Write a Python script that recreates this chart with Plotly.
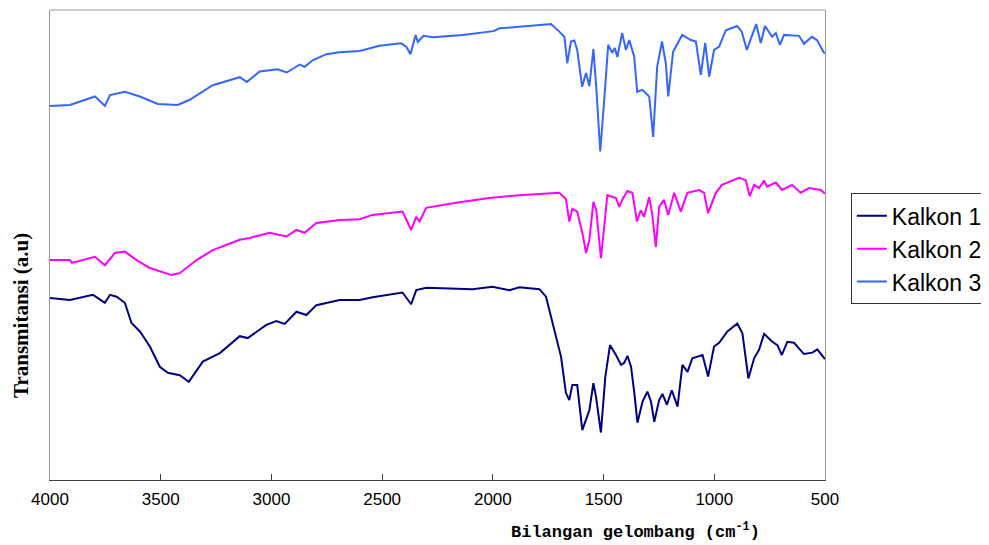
import plotly.graph_objects as go

# Kalkon 3 (top, blue)
k3_wn = [4000, 3910, 3797, 3752, 3729, 3662, 3594, 3513, 3423, 3369, 3265, 3143, 3111, 3053, 2972, 2931,
         2872, 2850, 2814, 2752, 2692, 2602, 2512, 2414, 2391, 2372, 2349, 2339, 2313, 2271, 2136,
         1997, 1970, 1880, 1820,
         1737, 1700, 1677, 1664, 1647, 1632, 1619, 1597, 1579, 1564, 1546, 1533, 1515, 1497, 1479,
         1461, 1449, 1438, 1416, 1399, 1384, 1362, 1348, 1325, 1294, 1276, 1258, 1236, 1219, 1208,
         1186, 1145, 1106, 1083, 1061, 1041, 1023, 1001, 978, 948, 897, 876, 853, 811, 790, 771,
         739, 722, 704, 685, 617, 595, 559, 536, 505, 500]
k3_t = [79.6, 79.8, 81.6, 79.6, 81.9, 82.6, 81.6, 80.0, 79.8, 80.9, 84.0, 85.7, 84.7, 86.9, 87.4, 86.7,
        88.4, 87.9, 89.3, 90.6, 91.0, 91.3, 92.4, 92.9, 92.2, 90.6, 94.7, 93.2, 94.5, 94.2, 94.7,
        95.5, 96.1, 96.4, 96.6,
        97.0, 95.4, 94.3, 88.7, 93.3, 93.5, 91.5, 83.7, 86.6, 83.8, 91.7, 83.6, 69.9, 80.9, 92.6,
        90.9, 91.9, 90.0, 95.1, 91.5, 93.6, 90.1, 82.6, 83.0, 81.6, 73.0, 87.9, 93.3, 88.7, 81.6,
        91.1, 94.7, 93.6, 93.3, 86.2, 93.0, 85.8, 91.5, 92.2, 95.7, 96.6, 95.4, 91.5, 97.0, 93.0, 96.6,
        94.3, 95.1, 92.6, 94.7, 94.5, 92.8, 94.3, 93.6, 90.9, 90.9]

# Kalkon 2 (middle, magenta)
k2_wn = [4000, 3910, 3901, 3797, 3752, 3707, 3662, 3609, 3549, 3451, 3414, 3338, 3265, 3143, 3098, 3008,
         2932, 2887, 2850, 2797, 2692, 2602, 2543, 2408, 2369, 2346, 2331, 2301, 2166, 2016, 1880,
         1700, 1670, 1655, 1641, 1619, 1596, 1579, 1564, 1546, 1533, 1512, 1497, 1483, 1444, 1429,
         1416, 1393, 1370, 1349, 1332, 1317, 1294, 1281, 1264, 1249, 1227, 1208, 1181, 1151, 1122,
         1068, 1046, 1028, 993, 965, 888, 858, 840, 820, 798, 775, 762, 722, 694, 649, 610, 572, 519, 500]
k2_t = [46.8, 46.8, 46.2, 47.5, 45.7, 48.3, 48.6, 46.8, 45.1, 43.6, 44.0, 46.8, 48.9, 51.1, 51.5, 52.6,
        51.8, 53.2, 52.6, 54.7, 55.3, 55.5, 56.4, 57.1, 53.2, 56.0, 55.0, 57.9, 59.0, 60.0, 60.6,
        61.1, 59.8, 55.0, 57.7, 57.1, 52.6, 48.3, 51.1, 59.2, 57.4, 47.2, 53.9, 60.6, 60.0, 58.1,
        59.6, 61.5, 61.1, 55.0, 57.4, 56.0, 60.2, 56.8, 49.6, 58.1, 59.6, 56.4, 61.1, 57.1, 61.1,
        61.7, 61.1, 56.8, 61.1, 62.8, 64.3, 63.8, 60.4, 62.8, 62.1, 63.7, 62.4, 63.3, 61.7, 62.8,
        61.1, 62.1, 61.7, 60.9]

# Kalkon 1 (bottom, navy)
k1_wn = [4000, 3910, 3806, 3752, 3729, 3699, 3662, 3632, 3594, 3549, 3504, 3468, 3414, 3373, 3310, 3233,
         3143, 3107, 3023, 2978, 2940, 2887, 2842, 2797, 2692, 2602, 2543, 2408, 2369, 2346, 2301,
         2092, 2002, 1925, 1880, 1790, 1760, 1737, 1715, 1692, 1670, 1655, 1641, 1619, 1596, 1564,
         1546, 1534, 1512, 1492, 1471, 1444, 1421, 1407, 1392, 1376, 1361, 1347, 1324, 1302, 1286,
         1271, 1249, 1234, 1214, 1192, 1166, 1144, 1121, 1099, 1053, 1028, 1001, 978, 941, 896, 873,
         846, 820, 798, 775, 738, 715, 695, 670, 640, 595, 557, 535, 500]
k1_t = [38.7, 38.3, 39.4, 37.7, 39.4, 39.0, 37.7, 33.4, 31.6, 28.4, 24.1, 22.8, 22.3, 20.9, 25.2, 27.0,
        30.6, 30.2, 33.0, 33.8, 33.2, 35.8, 35.1, 37.2, 38.3, 38.3, 38.9, 39.9, 37.4, 40.4, 40.9,
        40.6, 41.1, 40.4, 41.0, 40.6, 39.0, 34.7, 30.5, 26.2, 18.5, 17.0, 20.2, 20.2, 10.6, 14.9,
        20.6, 17.7, 10.1, 22.0, 28.7, 26.6, 24.5, 24.9, 26.4, 24.1, 18.5, 12.2, 16.7, 18.8, 16.7,
        12.4, 17.0, 18.3, 16.0, 19.1, 15.6, 24.5, 23.0, 25.9, 26.6, 22.0, 28.4, 29.2, 31.6, 33.3, 31.2,
        21.6, 25.9, 27.7, 31.1, 29.4, 28.7, 26.6, 29.4, 29.2, 26.8, 27.1, 27.8, 25.7]

series_names = ["Kalkon 1", "Kalkon 2", "Kalkon 3"]
series_colors = ["#000080", "#FF00FF", "#3366FF"]
x_ticks = [4000, 3500, 3000, 2500, 2000, 1500, 1000, 500]

fig = go.Figure()
for name, color, wn, t in zip(series_names, series_colors,
                              [k1_wn, k2_wn, k3_wn], [k1_t, k2_t, k3_t]):
    fig.add_trace(go.Scatter(x=wn, y=t, mode="lines", name=name,
                             line=dict(color=color, width=2)))

fig.update_layout(
    width=981, height=545,
    margin=dict(l=42, r=163, t=2, b=73),
    paper_bgcolor="white", plot_bgcolor="white",
    showlegend=True,
    legend=dict(x=1.032, y=0.61, xanchor="left", yanchor="top",
                bordercolor="#333333", borderwidth=1, bgcolor="white",
                font=dict(family="Liberation Sans, Arial", size=23, color="black"),
                tracegroupgap=0),
    xaxis=dict(range=[4000, 500], tickvals=x_ticks, ticktext=[str(v) for v in x_ticks],
               ticks="inside", ticklen=6, tickcolor="#404040", showgrid=False, zeroline=False,
               showline=True, linecolor="#404040", linewidth=1, ticklabelstandoff=4,
               tickfont=dict(family="Liberation Sans, Arial", size=17, color="black")),
    yaxis=dict(range=[0, 100], showticklabels=False, ticks="", showgrid=False, zeroline=False,
               showline=True, linecolor="#999999", linewidth=1, mirror=True),
    shapes=[dict(type="line", xref="paper", yref="paper", x0=0, x1=1, y0=1, y1=1,
                 line=dict(color="#999999", width=1))],
    annotations=[
        dict(text="Bilangan gelombang (cm<sup>-1</sup>)", xref="paper", yref="paper",
             x=0.755, y=-0.108, xanchor="center", yanchor="middle", showarrow=False,
             font=dict(family="Liberation Mono, Courier New", size=17, color="black", weight="bold")),
        dict(text="Transmitansi (a.u)", xref="paper", yref="paper",
             x=-0.0373, y=0.349, xanchor="center", yanchor="middle", showarrow=False,
             textangle=-90,
             font=dict(family="Liberation Serif, Times New Roman", size=21, color="black", weight="bold")),
    ],
)

fig.write_html("out.html")
